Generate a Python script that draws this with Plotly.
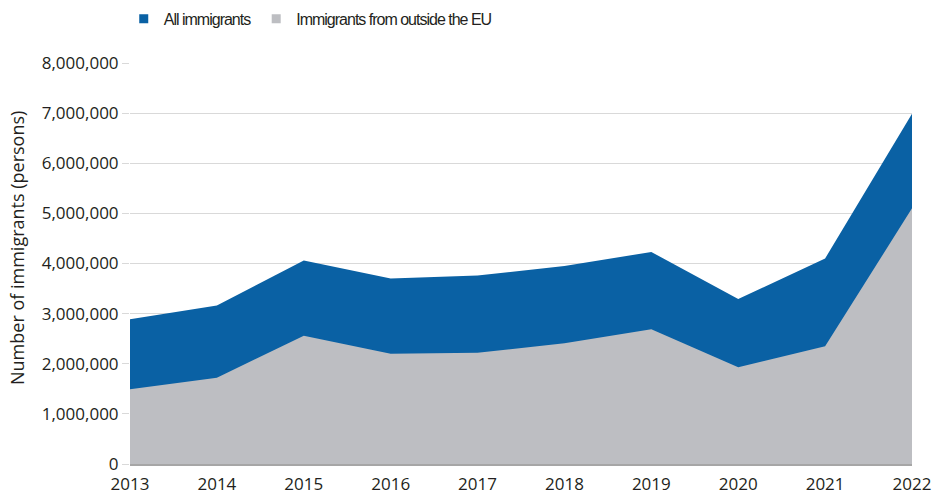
import plotly.graph_objects as go

years = [2013, 2014, 2015, 2016, 2017, 2018, 2019, 2020, 2021, 2022]
all_immigrants = [2890000, 3160000, 4060000, 3700000, 3760000, 3950000, 4230000, 3290000, 4100000, 6990000]
outside_eu = [1490000, 1720000, 2560000, 2200000, 2220000, 2410000, 2690000, 1930000, 2350000, 5100000]
y_ticks = [0, 1000000, 2000000, 3000000, 4000000, 5000000, 6000000, 7000000, 8000000]
series_names = ["All immigrants", "Immigrants from outside the EU"]
y_title = "Number of immigrants (persons)"

BLUE = "#0a61a4"
GRAY = "#bdbec2"
FONT = "Open Sans, Liberation Sans, sans-serif"
LEG_FONT = "Liberation Sans, sans-serif"


def condensed(t):
    return f"<span style='letter-spacing:-1.0px'>{t}</span>"


fig = go.Figure()
fig.add_trace(go.Scatter(
    x=years, y=all_immigrants, name=series_names[0],
    mode="lines", line=dict(width=0, color=BLUE),
    fill="tozeroy", fillcolor=BLUE, showlegend=False,
))
fig.add_trace(go.Scatter(
    x=years, y=outside_eu, name=series_names[1],
    mode="lines", line=dict(width=0, color=GRAY),
    fill="tozeroy", fillcolor=GRAY, showlegend=False,
))
# legend entries with square symbols
fig.add_trace(go.Scatter(
    x=[None], y=[None], name=condensed(series_names[0]), mode="markers",
    marker=dict(symbol="square", size=9, color=BLUE),
))
fig.add_trace(go.Scatter(
    x=[None], y=[None], name=condensed(series_names[1]), mode="markers",
    marker=dict(symbol="square", size=9, color=GRAY),
))

fig.add_annotation(
    text=y_title, textangle=-90,
    xref="paper", yref="paper",
    x=(17 - 130) / 782, y=(464 - 248) / 401,
    xanchor="center", yanchor="middle", showarrow=False,
    font=dict(size=18, family=FONT, color="#231f20"),
)

fig.update_layout(
    width=933, height=496,
    margin=dict(l=130, r=21, t=63, b=32, autoexpand=False),
    paper_bgcolor="white", plot_bgcolor="white",
    font=dict(family=FONT, size=17, color="#231f20"),
    showlegend=True,
    legend=dict(
        orientation="h", x=-0.008, xanchor="left", y=1.11, yanchor="middle",
        font=dict(size=16, family=LEG_FONT, color="#231f20"),
        itemwidth=30, tracegroupgap=0,
        bgcolor="rgba(0,0,0,0)",
    ),
    xaxis=dict(
        range=[2013, 2022], tickmode="array", tickvals=years,
        ticktext=[str(y) for y in years],
        showgrid=False, zeroline=False,
        showline=True, linecolor="#a6a6a6", linewidth=1.5,
        ticks="outside", ticklen=4, tickcolor="rgba(0,0,0,0)",
        tickfont=dict(size=17),
    ),
    yaxis=dict(
        range=[0, 8000000], tickmode="array", tickvals=y_ticks,
        ticktext=[f"{v:,}" for v in y_ticks],
        showgrid=True, gridcolor="#d9d9d9", gridwidth=1,
        zeroline=False, showline=False,
        ticks="outside", ticklen=7, tickcolor="#d9d9d9",
        tickfont=dict(size=17),
    ),
)

fig.write_html("out.html")
